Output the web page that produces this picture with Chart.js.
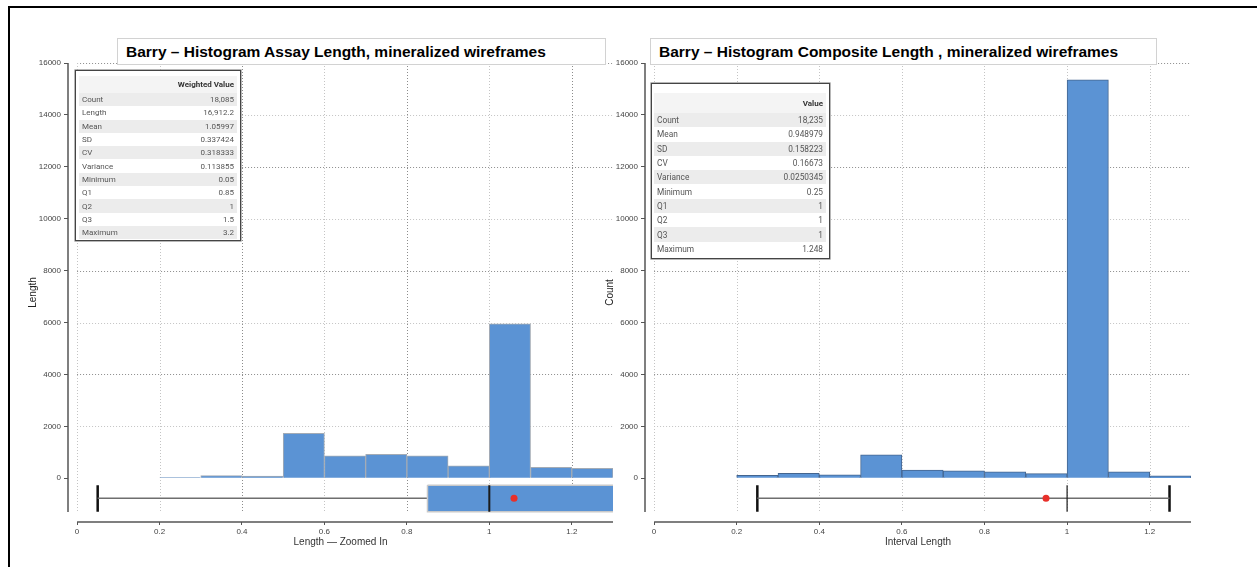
<!DOCTYPE html>
<html><head><meta charset="utf-8">
<script src="https://cdn.jsdelivr.net/npm/chart.js@4.4.1/dist/chart.umd.min.js"></script>
<style>
html,body{margin:0;padding:0;background:#fff;width:1257px;height:567px;overflow:hidden;font-family:"Liberation Sans",Arial,sans-serif;}
#frame{position:absolute;left:8px;top:6px;width:1262px;height:575px;border-left:2px solid #000;border-top:2px solid #000;}
canvas{position:absolute;left:0;top:0;}
.title{position:absolute;height:27px;border:1px solid #d2d2d2;background:#fff;font-weight:bold;font-size:15.5px;line-height:26px;padding-left:8px;box-sizing:border-box;color:#000;white-space:nowrap;}
.stats{position:absolute;background:#fff;border:1px solid #444;box-shadow:0 0 0 0.6px #888;box-sizing:border-box;}
.stats table{position:absolute;border-collapse:collapse;font-family:Roboto,"Liberation Sans",sans-serif;font-size:8px;color:#555;}
.stats td,.stats th{padding:0 3px;white-space:nowrap;}
.stats td.v{text-align:right;}
.stats tr.g td{background:#ececec;}
.stats th{font-weight:bold;color:#333;text-align:right;background:#f4f4f4;vertical-align:middle;}
</style></head>
<body>
<div id="frame"></div>
<canvas id="c1" width="1257" height="567"></canvas>
<canvas id="c2" width="1257" height="567"></canvas>
<div class="title" style="left:117px;top:38px;width:489px;">Barry – Histogram Assay Length, mineralized wireframes</div>
<div class="title" style="left:650px;top:38px;width:507px;">Barry – Histogram Composite Length , mineralized wireframes</div>
<div class="stats" id="t1" style="left:75px;top:70px;width:166px;height:171px;"></div>
<div class="stats" id="t2" style="left:651px;top:83px;width:179px;height:176px;"></div>
<script>
// ---------- data ----------
const binStarts = [0.2, 0.3, 0.4, 0.5, 0.6, 0.7, 0.8, 0.9, 1.0, 1.1, 1.2];
const binWidth = 0.1;
const assayLengthValues = [25, 100, 80, 1735, 865, 925, 865, 478, 5950, 425, 385];
const compositeCountValues = [115, 195, 130, 900, 320, 285, 245, 180, 15350, 245, 90];
const xTickValues = [0, 0.2, 0.4, 0.6, 0.8, 1, 1.2];
const yTickValues = [0, 2000, 4000, 6000, 8000, 10000, 12000, 14000, 16000];
const yGridValues = [2000, 4000, 6000, 8000, 10000, 12000, 14000, 16000];
const assayStatsLabels = ['Count','Length','Mean','SD','CV','Variance','Minimum','Q1','Q2','Q3','Maximum'];
const assayStatsValues = [18085, 16912.2, 1.05997, 0.337424, 0.318333, 0.113855, 0.05, 0.85, 1, 1.5, 3.2];
const compositeStatsLabels = ['Count','Mean','SD','CV','Variance','Minimum','Q1','Q2','Q3','Maximum'];
const compositeStatsValues = [18235, 0.948979, 0.158223, 0.16673, 0.0250345, 0.25, 1, 1, 1, 1.248];

// ---------- layout constants ----------
const X_MIN = -0.022, X_MAX = 1.3, Y_MIN = -1685, Y_MAX = 16000, AXIS_LOW = -1300;
const BOX_TOP = -270, BOX_MID = -770, BOX_BOTTOM = -1290;
const BLUE = '#5b93d4';

const fmt = v => v.toLocaleString('en-US', {maximumSignificantDigits: 6});

function buildTable(id, header, labels, values, cfg){
  let h = `<table style="left:${cfg.l}px;top:${cfg.t}px;width:${cfg.w}px;"><tr style="height:${cfg.hh}px"><th></th><th>${header}</th></tr>`;
  labels.forEach((l,i)=>{ h += `<tr class="${i%2===0?'g':''}" style="height:${cfg.rh}px;font-size:${cfg.fs}px"><td>${l}</td><td class="v">${fmt(values[i])}</td></tr>`; });
  document.getElementById(id).innerHTML = h + '</table>';
}
buildTable('t1', 'Weighted Value', assayStatsLabels, assayStatsValues, {l:3,t:5,w:158,hh:17,rh:13.3,fs:8});
buildTable('t2', 'Value', compositeStatsLabels, compositeStatsValues, {l:2,t:9,w:172,hh:20,rh:14.3,fs:8.3});

function gridPlugin(darkX){
  return {
    id: 'gridAxes',
    beforeDatasetsDraw(chart){
      const {ctx, scales:{x, y}, chartArea} = chart;
      ctx.save();
      ctx.lineWidth = 1;
      ctx.setLineDash([1, 2]);
      yGridValues.forEach(v=>{
        const py = Math.round(y.getPixelForValue(v)) + 0.5;
        ctx.strokeStyle = (v % 4000 === 0) ? '#8c8c8c' : '#c4c4c4';
        ctx.beginPath(); ctx.moveTo(x.getPixelForValue(0), py); ctx.lineTo(x.getPixelForValue(X_MAX), py); ctx.stroke();
      });
      xTickValues.forEach((v,i)=>{
        const px = Math.round(x.getPixelForValue(v)) + 0.5;
        ctx.strokeStyle = (darkX && i % 2 === 0 && v > 0) ? '#8c8c8c' : '#c4c4c4';
        ctx.beginPath(); ctx.moveTo(px, y.getPixelForValue(Y_MAX)); ctx.lineTo(px, y.getPixelForValue(AXIS_LOW)); ctx.stroke();
      });
      ctx.setLineDash([]);
      ctx.strokeStyle = '#555'; ctx.lineWidth = 1.5;
      ctx.beginPath(); ctx.moveTo(chartArea.left, y.getPixelForValue(Y_MAX)); ctx.lineTo(chartArea.left, y.getPixelForValue(AXIS_LOW)); ctx.stroke();
      ctx.beginPath(); ctx.moveTo(x.getPixelForValue(0), chartArea.bottom); ctx.lineTo(x.getPixelForValue(X_MAX), chartArea.bottom); ctx.stroke();
      ctx.restore();
    }
  };
}

function buildChart(id, o){
  const st = name => o.statsValues[o.statsLabels.indexOf(name)];
  const q1 = st('Q1'), q2 = st('Q2'), q3 = st('Q3'), mn = st('Minimum'), mx = st('Maximum'), mean = st('Mean');
  const line = (data, extra) => Object.assign({type:'line', data, pointRadius:0, tension:0, fill:false}, extra);
  const datasets = [
    line([{x:mean, y:BOX_MID}], {showLine:false, pointRadius:3.5, pointBackgroundColor:'#e8302a', pointBorderWidth:0}),
    line([{x:q2, y:BOX_TOP},{x:q2, y:BOX_BOTTOM}], {borderColor:'#1b1b1b', borderWidth:o.medianWidth}),
  ];
  if (q3 > q1) {
    datasets.push(line([{x:q1,y:BOX_TOP},{x:q3,y:BOX_TOP},{x:q3,y:BOX_BOTTOM},{x:q1,y:BOX_BOTTOM},{x:q1,y:BOX_TOP}],
      {fill:'shape', backgroundColor:BLUE, borderColor:'#c9c9c9', borderWidth:1.5}));
  }
  datasets.push(
    line([{x:mn,y:BOX_MID},{x:q1,y:BOX_MID}], {borderColor:'#6e6e6e', borderWidth:1.5}),
    line([{x:q3,y:BOX_MID},{x:mx,y:BOX_MID}], {borderColor:'#6e6e6e', borderWidth:1.5}),
    line([{x:mn,y:BOX_TOP},{x:mn,y:BOX_BOTTOM}], {borderColor:'#111', borderWidth:2.5}),
    line([{x:mx,y:BOX_TOP},{x:mx,y:BOX_BOTTOM}], {borderColor:'#111', borderWidth:2.5}),
    {type:'bar', data: binStarts.map((s,i)=>({x: s + binWidth/2, y: o.values[i]})),
     backgroundColor: BLUE, borderColor: o.barBorder, borderWidth: 1, barPercentage: 1, categoryPercentage: 1}
  );
  new Chart(document.getElementById(id), {
    type: 'bar',
    data: {datasets},
    options: {
      responsive: false, animation: false,
      layout: {padding: o.padding},
      plugins: {legend:{display:false}, tooltip:{enabled:false}},
      scales: {
        x: {type:'linear', min:X_MIN, max:X_MAX, offset:false,
            afterBuildTicks: s => { s.ticks = xTickValues.map(v=>({value:v})); },
            afterFit: s => { s.height = 30; },
            grid: {display:true, offset:false, drawOnChartArea:false, drawTicks:true, tickLength:3, color:'#555'},
            border: {display:false},
            ticks: {font:{size:8, family:'Liberation Sans'}, color:'#444', padding:2, maxRotation:0, autoSkip:false, callback: v => String(v)},
            title: {display:true, text:o.xTitle, font:{size:10, family:'Liberation Sans'}, color:'#333', padding:{top:0, bottom:4}}},
        y: {type:'linear', min:Y_MIN, max:Y_MAX,
            afterBuildTicks: s => { s.ticks = yTickValues.map(v=>({value:v})); },
            afterFit: s => { s.width = 48; },
            grid: {display:true, drawOnChartArea:false, drawTicks:true, tickLength:4, color:'#555'},
            border: {display:false},
            ticks: {font:{size:8, family:'Liberation Sans'}, color:'#444', padding:3, autoSkip:false, callback: v => String(v)},
            title: {display:true, text:o.yTitle, font:{size:10, family:'Liberation Sans'}, color:'#222', padding:{top:7, bottom:0}}}
      }
    },
    plugins: [gridPlugin(o.darkX)]
  });
}

buildChart('c1', {values: assayLengthValues, statsLabels: assayStatsLabels, statsValues: assayStatsValues,
  xTitle: 'Length — Zoomed In', yTitle: 'Length', medianWidth: 2, barBorder: '#a3abb5', darkX: true,
  padding: {left:20, top:63, right:644, bottom:15}});
buildChart('c2', {values: compositeCountValues, statsLabels: compositeStatsLabels, statsValues: compositeStatsValues,
  xTitle: 'Interval Length', yTitle: 'Count', medianWidth: 1.2, barBorder: '#44658f', darkX: false,
  padding: {left:597, top:63, right:66, bottom:15}});
</script>
</body></html>
